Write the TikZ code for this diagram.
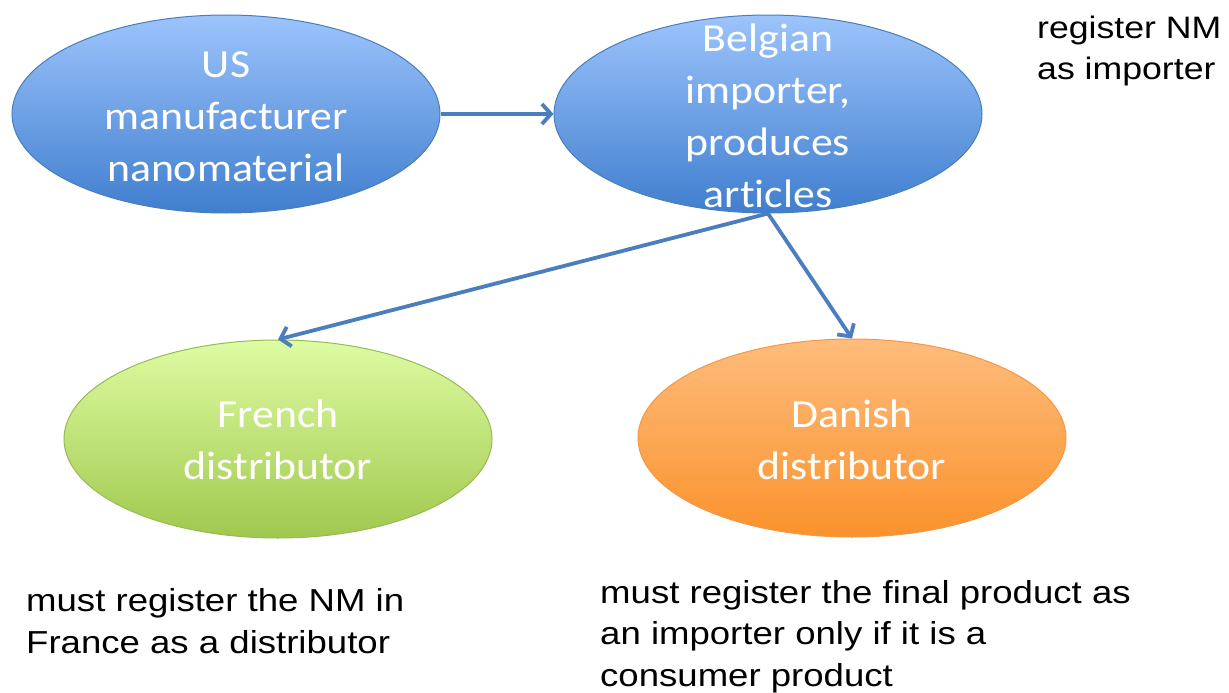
\documentclass[tikz,border=0pt]{standalone}
\usepackage{fontspec}
\setmainfont{Liberation Sans}[FakeStretch=1.15]
\newfontfamily\calib{Carlito}[FakeStretch=1.1,Ligatures={NoCommon}]
\usetikzlibrary{shapes.geometric,arrows.meta}
\definecolor{bluetop}{RGB}{156,196,252}
\definecolor{bluebot}{RGB}{64,126,206}
\definecolor{blueline}{RGB}{74,126,187}
\definecolor{greentop}{RGB}{222,252,162}
\definecolor{greenbot}{RGB}{160,200,78}
\definecolor{greenline}{RGB}{152,185,84}
\definecolor{orangetop}{RGB}{254,188,124}
\definecolor{orangebot}{RGB}{250,146,44}
\definecolor{orangeline}{RGB}{246,150,70}
\definecolor{arrowblue}{RGB}{74,126,190}
\tikzset{
  ell/.style={ellipse, minimum width=428pt, minimum height=198pt, inner sep=0pt, line width=1pt},
  blueell/.style={ell, top color=bluetop, bottom color=bluebot, draw=blueline},
  greenell/.style={ell, top color=greentop, bottom color=greenbot, draw=greenline},
  orangeell/.style={ell, top color=orangetop, bottom color=orangebot, draw=orangeline},
  etext/.style={text=white, align=center, inner sep=0pt, anchor=base, font=\calib\fontsize{39.8}{52}\selectfont},
  note/.style={text=black, align=left, inner sep=0pt, anchor=base west, font=\fontsize{31}{41}\selectfont},
  bignote/.style={note, font=\fontsize{31.8}{41.5}\selectfont},
  conn/.style={draw=arrowblue, line width=3.8pt, -{Straight Barb[length=9pt,width=20pt]}}
}
\begin{document}
\begin{tikzpicture}[x=1pt,y=-1pt]
\useasboundingbox (0,0) rectangle (1229,693);
\node[blueell] (us) at (226,114) {};
\node[blueell] (bel) at (768,114) {};
\node[greenell] (fr) at (278,439) {};
\node[orangeell] (dk) at (852,438) {};
\node[etext] (ust) at (226,181) {US\\manufacturer\\nanomaterial};
\node[etext] (belt) at (768,207) {Belgian\\importer,\\produces\\articles};
\node[etext] (frt) at (278,479) {French\\distributor};
\node[etext] (dkt) at (852,479) {Danish\\distributor};
\draw[conn] (us.east) -- (bel.west);
\draw[conn] (bel.south) -- (fr.north);
\draw[conn] (bel.south) -- (dk.north);
\node[note] (n1) at (1037,80) {register NM\\as importer};
\node[bignote] (n2) at (26,653) {must register the NM in\\France as a distributor};
\node[bignote] (n3) at (600,686) {must register the final product as\\an importer only if it is a\\consumer product};
\end{tikzpicture}
\end{document}
